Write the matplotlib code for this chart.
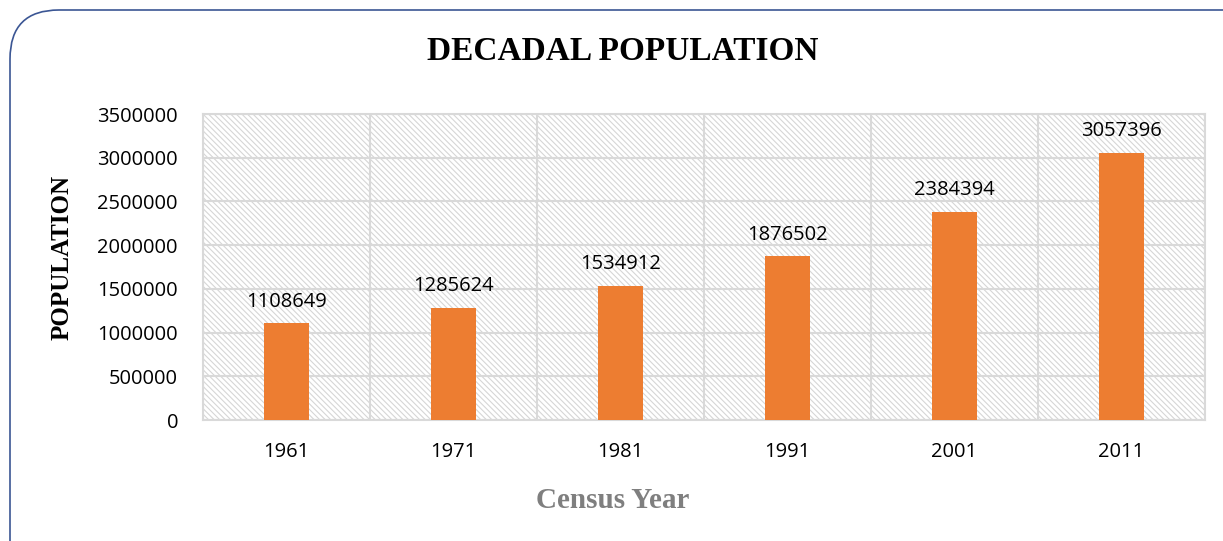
import matplotlib.pyplot as plt
import numpy as np
from matplotlib.patches import Rectangle, FancyBboxPatch

years = ['1961', '1971', '1981', '1991', '2001', '2011']
population = [1108649, 1285624, 1534912, 1876502, 2384394, 3057396]
y_ticks = [0, 500000, 1000000, 1500000, 2000000, 2500000, 3000000, 3500000]

BAR_COLOR = '#ED7D31'
GRID_COLOR = '#D9D9D9'
SERIF = 'Liberation Serif'
SANS = 'Open Sans'

plt.rcParams['hatch.linewidth'] = 0.8
plt.rcParams['hatch.color'] = '#D6D6D6'

fig = plt.figure(figsize=(12.23, 5.41), dpi=100)
ax = fig.add_axes([203 / 1223, 1 - 420 / 541, (1205 - 203) / 1223, (420 - 114) / 541])

# rounded chart border (cut off at right and bottom like the reference)
border = FancyBboxPatch((10 / 1223, -0.2), 1.2, 1 - 10 / 541 + 0.2,
                        boxstyle='round,pad=0,rounding_size=0.04',
                        transform=fig.transFigure, fill=False,
                        edgecolor='#3B5694', linewidth=1.2, mutation_aspect=1223 / 541)
fig.patches.append(border)

# hatched plot background
ax.add_patch(Rectangle((0, 0), 1, 1, transform=ax.transAxes, facecolor='white',
                       hatch='\\\\\\\\\\\\', edgecolor='#D6D6D6', linewidth=0, zorder=0))

x = np.arange(len(years))
ax.bar(x, population, width=0.275, color=BAR_COLOR, zorder=3)

for xi, v in zip(x, population):
    ax.text(xi, v + 130000, str(v), ha='center', va='bottom', fontsize=14.5,
            family=SANS, color='#000000', zorder=4)

ax.set_xlim(-0.5, len(years) - 0.5)
ax.set_ylim(0, 3500000)
ax.set_yticks(y_ticks)
ax.set_yticklabels([str(t) for t in y_ticks], family=SANS, fontsize=14.5)
ax.set_xticks(x)
ax.set_xticklabels(years, family=SANS, fontsize=14.5)
ax.set_xticks(np.arange(-0.5, len(years), 1.0), minor=True)
ax.tick_params(axis='both', which='both', length=0)
ax.tick_params(axis='x', pad=16)
ax.tick_params(axis='y', pad=18)

ax.grid(axis='y', which='major', color=GRID_COLOR, linewidth=1.5, zorder=1)
ax.grid(axis='x', which='minor', color=GRID_COLOR, linewidth=1.5, zorder=1)
ax.set_axisbelow(True)
for s in ax.spines.values():
    s.set_color(GRID_COLOR)
    s.set_linewidth(1.5)

fig.text(623 / 1223, 1 - 52 / 541, 'DECADAL POPULATION', ha='center', va='center',
         family=SERIF, fontweight='bold', fontsize=24)
fig.text(62 / 1223, 1 - 257 / 541, 'POPULATION', ha='center', va='center', rotation=90,
         family=SERIF, fontweight='bold', fontsize=18)
fig.text(613 / 1223, 1 - 501 / 541, 'Census Year', ha='center', va='center',
         family=SERIF, fontweight='bold', fontsize=21, color='#7F7F7F')

fig.savefig('out.png', dpi=100)
